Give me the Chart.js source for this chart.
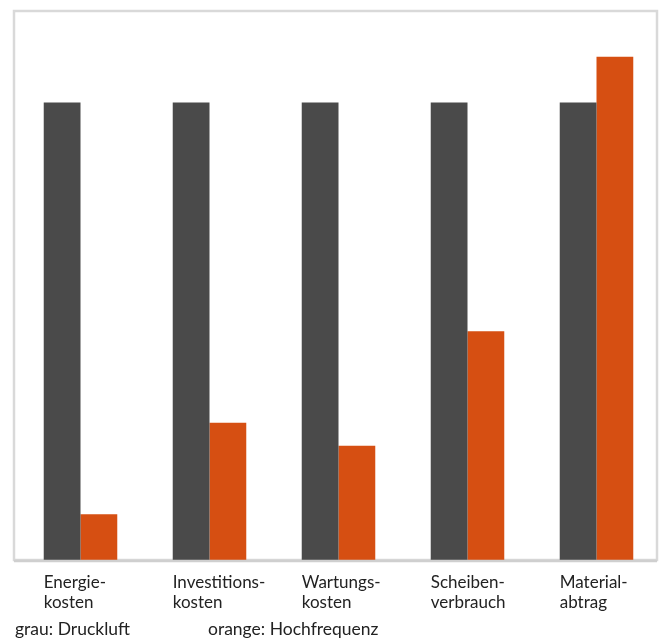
<!DOCTYPE html>
<html>
<head>
<meta charset="utf-8">
<script src="https://cdn.jsdelivr.net/npm/chart.js@4/dist/chart.umd.min.js"></script>
<style>
  html, body { margin: 0; padding: 0; background: #fff; }
  #wrap { position: relative; width: 662px; height: 638px; }
  canvas { position: absolute; left: 0; top: 0; }
  .leg { position: absolute; font-family: Lato, "Open Sans", sans-serif; font-size: 17.5px; color: #222; white-space: nowrap; line-height: 1; }
</style>
</head>
<body>
<div id="wrap">
  <canvas id="c" width="662" height="638"></canvas>
  <div class="leg" id="leg1" style="left:15px; top:620px;">grau: Druckluft</div>
  <div class="leg" id="leg2" style="left:208px; top:620px;">orange: Hochfrequenz</div>
</div>
<script>
const categories = [["Energie-", "kosten"], ["Investitions-", "kosten"], ["Wartungs-", "kosten"], ["Scheiben-", "verbrauch"], ["Material-", "abtrag"]];
const druckluft = [100, 100, 100, 100, 100];
const hochfrequenz = [10, 30, 25, 50, 110];
const seriesNames = ["grau: Druckluft", "orange: Hochfrequenz"];

const frameAndLabels = {
  id: 'frameAndLabels',
  beforeDatasetsDraw(chart) {
    const {ctx, chartArea: a} = chart;
    ctx.save();
    ctx.strokeStyle = '#d9d9d9';
    ctx.lineWidth = 2.5;
    ctx.strokeRect(14, a.top, 657 - 14, a.bottom - a.top);
    ctx.restore();
  },
  afterDatasetsDraw(chart) {
    const {ctx, chartArea: a} = chart;
    ctx.save();
    ctx.strokeStyle = '#cfcfcf';
    ctx.lineWidth = 2.5;
    ctx.beginPath();
    ctx.moveTo(14, a.bottom + 1);
    ctx.lineTo(657, a.bottom + 1);
    ctx.stroke();
    const meta = chart.getDatasetMeta(0);
    ctx.fillStyle = '#222';
    ctx.font = '17px Lato, "Open Sans", sans-serif';
    ctx.textAlign = 'left';
    ctx.textBaseline = 'alphabetic';
    meta.data.forEach((bar, i) => {
      const x0 = bar.x - bar.width / 2;
      const lines = chart.data.labels[i];
      lines.forEach((t, j) => ctx.fillText(t, x0, 588 + j * 20));
    });
    ctx.restore();
  }
};

new Chart(document.getElementById('c'), {
  type: 'bar',
  data: {
    labels: categories,
    datasets: [
      { label: seriesNames[0], data: druckluft, backgroundColor: '#4a4a4a', borderWidth: 0 },
      { label: seriesNames[1], data: hochfrequenz, backgroundColor: '#d64f12', borderWidth: 0 }
    ]
  },
  options: {
    responsive: false,
    animation: false,
    devicePixelRatio: 1,
    layout: { padding: { left: 16, top: 11, right: 1, bottom: 78 } },
    datasets: { bar: { categoryPercentage: 0.57, barPercentage: 1.0 } },
    plugins: { legend: { display: false }, tooltip: { enabled: false } },
    scales: {
      x: { display: false },
      y: { display: false, min: 0, max: 120 }
    }
  },
  plugins: [frameAndLabels]
});
</script>
</body>
</html>
